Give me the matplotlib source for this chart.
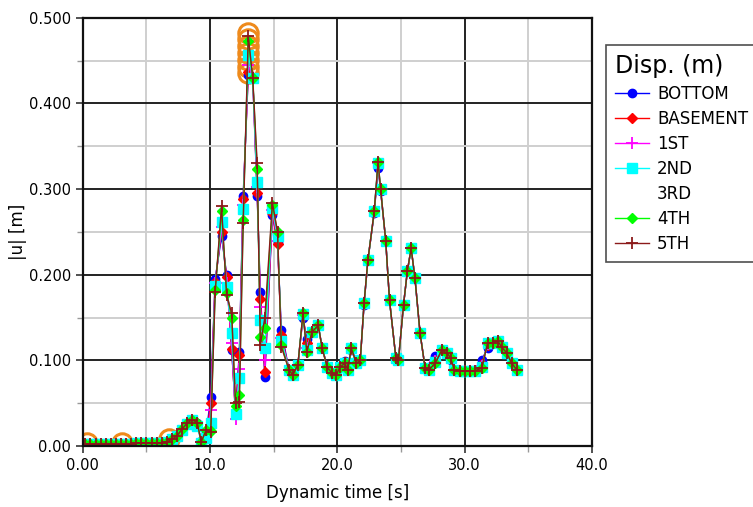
import numpy as np
import matplotlib
matplotlib.use('Agg')
import matplotlib.pyplot as plt
from matplotlib.ticker import MultipleLocator

# time stamps [s]
t = [0.2, 0.6, 1.0, 1.4, 1.8, 2.2, 2.6, 3.0, 3.4, 3.8,
     4.2, 4.6, 5.0, 5.4, 5.8, 6.2, 6.6, 7.0, 7.4, 7.8,
     8.2, 8.6, 9.0, 9.3, 9.7, 10.05, 10.4, 10.9, 11.3, 11.7,
     12.0, 12.3, 12.6, 13.0, 13.35, 13.7, 13.95, 14.3, 14.9, 15.3,
     15.6, 16.2, 16.5, 16.9, 17.3, 17.6, 18.0, 18.5, 18.8, 19.2,
     19.6, 19.9, 20.2, 20.6, 20.8, 21.1, 21.5, 21.8, 22.1, 22.4,
     22.9, 23.2, 23.4, 23.8, 24.1, 24.6, 24.8, 25.2, 25.5, 25.8,
     26.1, 26.5, 26.9, 27.2, 27.7, 28.2, 28.6, 28.9, 29.2, 29.6,
     30.0, 30.4, 30.8, 31.35, 31.8, 32.2, 32.6, 32.9, 33.3, 33.7,
     34.1]

u_bottom = [0.002, 0.002, 0.003, 0.003, 0.003, 0.003, 0.003, 0.003, 0.003, 0.003,
            0.004, 0.004, 0.004, 0.004, 0.004, 0.004, 0.005, 0.008, 0.012, 0.020,
            0.027, 0.031, 0.027, 0.006, 0.016, 0.057, 0.195, 0.245, 0.200, 0.112,
            0.040, 0.110, 0.292, 0.433, 0.430, 0.292, 0.180, 0.081, 0.270, 0.238,
            0.135, 0.089, 0.083, 0.095, 0.150, 0.125, 0.133, 0.141, 0.115, 0.094,
            0.085, 0.083, 0.092, 0.099, 0.091, 0.112, 0.099, 0.100, 0.165, 0.217,
            0.272, 0.325, 0.298, 0.240, 0.170, 0.103, 0.100, 0.165, 0.204, 0.231,
            0.196, 0.132, 0.091, 0.092, 0.105, 0.112, 0.108, 0.100, 0.089, 0.088,
            0.088, 0.088, 0.089, 0.100, 0.115, 0.120, 0.121, 0.115, 0.108, 0.097,
            0.089]

u_basement = [0.002, 0.002, 0.003, 0.003, 0.003, 0.003, 0.003, 0.003, 0.003, 0.003,
              0.004, 0.004, 0.004, 0.004, 0.004, 0.004, 0.005, 0.008, 0.012, 0.020,
              0.027, 0.031, 0.027, 0.006, 0.013, 0.050, 0.192, 0.250, 0.197, 0.113,
              0.038, 0.106, 0.289, 0.437, 0.430, 0.296, 0.172, 0.087, 0.272, 0.236,
              0.130, 0.089, 0.083, 0.095, 0.152, 0.120, 0.133, 0.141, 0.115, 0.093,
              0.085, 0.083, 0.092, 0.098, 0.090, 0.113, 0.098, 0.100, 0.166, 0.217,
              0.273, 0.328, 0.299, 0.240, 0.170, 0.103, 0.100, 0.165, 0.204, 0.231,
              0.196, 0.132, 0.091, 0.091, 0.101, 0.112, 0.109, 0.102, 0.089, 0.088,
              0.088, 0.088, 0.088, 0.096, 0.118, 0.120, 0.122, 0.116, 0.109, 0.097,
              0.089]

u_1st = [0.002, 0.002, 0.003, 0.003, 0.003, 0.003, 0.003, 0.003, 0.003, 0.003,
         0.004, 0.004, 0.004, 0.004, 0.004, 0.004, 0.005, 0.008, 0.012, 0.020,
         0.027, 0.031, 0.026, 0.005, 0.008, 0.042, 0.190, 0.256, 0.190, 0.120,
         0.032, 0.090, 0.282, 0.445, 0.430, 0.302, 0.162, 0.100, 0.276, 0.240,
         0.126, 0.089, 0.083, 0.095, 0.153, 0.115, 0.133, 0.141, 0.115, 0.092,
         0.085, 0.083, 0.092, 0.097, 0.089, 0.114, 0.097, 0.100, 0.167, 0.217,
         0.274, 0.330, 0.300, 0.240, 0.170, 0.103, 0.100, 0.165, 0.204, 0.231,
         0.196, 0.132, 0.091, 0.090, 0.099, 0.112, 0.109, 0.103, 0.089, 0.088,
         0.088, 0.088, 0.088, 0.093, 0.119, 0.120, 0.123, 0.116, 0.109, 0.097,
         0.089]

u_2nd = [0.002, 0.002, 0.003, 0.003, 0.003, 0.003, 0.003, 0.003, 0.003, 0.003,
         0.004, 0.004, 0.004, 0.004, 0.004, 0.004, 0.005, 0.008, 0.012, 0.019,
         0.026, 0.030, 0.024, 0.004, 0.010, 0.027, 0.187, 0.262, 0.186, 0.132,
         0.038, 0.080, 0.277, 0.456, 0.430, 0.308, 0.147, 0.114, 0.278, 0.245,
         0.123, 0.089, 0.083, 0.095, 0.154, 0.112, 0.133, 0.141, 0.115, 0.092,
         0.085, 0.083, 0.092, 0.097, 0.089, 0.114, 0.097, 0.100, 0.167, 0.217,
         0.274, 0.331, 0.300, 0.240, 0.170, 0.103, 0.100, 0.165, 0.204, 0.231,
         0.196, 0.132, 0.091, 0.089, 0.098, 0.112, 0.109, 0.103, 0.089, 0.088,
         0.088, 0.088, 0.088, 0.092, 0.120, 0.120, 0.123, 0.116, 0.109, 0.097,
         0.089]

u_3rd = [0.002, 0.002, 0.003, 0.003, 0.003, 0.003, 0.003, 0.003, 0.003, 0.003,
         0.004, 0.004, 0.004, 0.004, 0.004, 0.004, 0.005, 0.008, 0.012, 0.020,
         0.027, 0.031, 0.027, 0.005, 0.017, 0.022, 0.184, 0.267, 0.182, 0.142,
         0.042, 0.070, 0.270, 0.465, 0.430, 0.315, 0.135, 0.125, 0.280, 0.248,
         0.120, 0.089, 0.083, 0.095, 0.155, 0.111, 0.133, 0.141, 0.115, 0.092,
         0.085, 0.083, 0.092, 0.097, 0.089, 0.114, 0.097, 0.100, 0.167, 0.217,
         0.274, 0.331, 0.300, 0.240, 0.170, 0.103, 0.100, 0.165, 0.204, 0.231,
         0.196, 0.132, 0.091, 0.089, 0.097, 0.112, 0.109, 0.103, 0.089, 0.088,
         0.088, 0.088, 0.088, 0.091, 0.120, 0.120, 0.123, 0.116, 0.109, 0.097,
         0.089]

u_4th = [0.002, 0.002, 0.003, 0.003, 0.003, 0.003, 0.003, 0.003, 0.003, 0.003,
         0.004, 0.004, 0.004, 0.004, 0.004, 0.004, 0.005, 0.008, 0.012, 0.020,
         0.027, 0.031, 0.027, 0.005, 0.019, 0.018, 0.182, 0.274, 0.179, 0.150,
         0.047, 0.060, 0.264, 0.473, 0.430, 0.323, 0.127, 0.138, 0.281, 0.250,
         0.118, 0.089, 0.083, 0.095, 0.155, 0.110, 0.133, 0.141, 0.115, 0.092,
         0.085, 0.083, 0.092, 0.097, 0.089, 0.114, 0.097, 0.100, 0.167, 0.217,
         0.274, 0.332, 0.300, 0.240, 0.170, 0.103, 0.100, 0.165, 0.204, 0.231,
         0.196, 0.132, 0.091, 0.089, 0.097, 0.112, 0.109, 0.103, 0.089, 0.088,
         0.088, 0.088, 0.088, 0.091, 0.120, 0.120, 0.123, 0.116, 0.109, 0.097,
         0.089]

u_5th = [0.002, 0.002, 0.003, 0.003, 0.003, 0.003, 0.003, 0.003, 0.003, 0.003,
         0.004, 0.004, 0.004, 0.004, 0.004, 0.004, 0.005, 0.008, 0.012, 0.020,
         0.027, 0.031, 0.027, 0.005, 0.019, 0.016, 0.180, 0.280, 0.176, 0.155,
         0.050, 0.052, 0.260, 0.479, 0.430, 0.330, 0.118, 0.150, 0.284, 0.250,
         0.116, 0.089, 0.083, 0.095, 0.155, 0.110, 0.133, 0.141, 0.115, 0.092,
         0.085, 0.083, 0.092, 0.097, 0.089, 0.114, 0.097, 0.100, 0.167, 0.217,
         0.274, 0.332, 0.300, 0.240, 0.170, 0.103, 0.100, 0.165, 0.204, 0.231,
         0.196, 0.132, 0.091, 0.089, 0.097, 0.112, 0.109, 0.103, 0.089, 0.088,
         0.088, 0.088, 0.088, 0.091, 0.120, 0.120, 0.123, 0.116, 0.109, 0.097,
         0.089]

# highlighted points (orange rings)
ring_t = [0.3, 3.1, 6.8, 12.95, 12.95, 12.95, 12.95, 12.95, 12.95, 12.95]
ring_u = [0.004, 0.004, 0.008, 0.435, 0.443, 0.451, 0.459, 0.467, 0.475, 0.482]

labels = ['BOTTOM', 'BASEMENT', '1ST', '2ND', '3RD', '4TH', '5TH']
series = [u_bottom, u_basement, u_1st, u_2nd, u_3rd, u_4th, u_5th]
colors = ['#0000ff', '#ff0000', '#ff00ff', '#00ffff', 'none', '#00ff00', '#8b1a1a']
markers = ['o', 'D', '+', 's', 'None', 'D', '+']
msizes = [6, 5, 8, 6.5, 0, 5, 9]

plt.rcParams['font.family'] = ['DejaVu Sans']

fig = plt.figure(figsize=(7.53, 5.07), dpi=100)
ax = fig.add_axes([0.110, 0.120, 0.676, 0.845])

for lab, u, c, m, ms in zip(labels, series, colors, markers, msizes):
    if c == 'none':
        ax.plot(t, u, ls='none', marker='None', label=lab)
        continue
    ax.plot(t, u, color=c, lw=1.0, marker=m, ms=ms, mec=c, mfc=c,
            mew=1.3 if m == '+' else 1.0, label=lab)

ax.plot(ring_t, ring_u, ls='none', marker='o', ms=14, mfc='none',
        mec='#ee8a1c', mew=2.2, zorder=1.5)

ax.set_xlim(0, 40)
ax.set_ylim(0, 0.5)
ax.xaxis.set_minor_locator(MultipleLocator(5))
ax.yaxis.set_minor_locator(MultipleLocator(0.05))
ax.set_xticks([0, 10, 20, 30, 40])
ax.set_xticklabels(['0.00', '10.0', '20.0', '30.0', '40.0'])
ax.set_yticks([0, 0.1, 0.2, 0.3, 0.4, 0.5])
ax.set_yticklabels(['0.00', '0.100', '0.200', '0.300', '0.400', '0.500'])
ax.tick_params(which='major', direction='out', length=5, width=1.2,
               labelsize=10.5, color='#333333')
ax.tick_params(which='minor', direction='out', length=4, width=1.0,
               color='#999999')

ax.grid(which='major', color='#222222', lw=1.4)
ax.grid(which='minor', color='#cfcfcf', lw=1.4)
ax.set_axisbelow(True)
for sp in ax.spines.values():
    sp.set_color('#111111')
    sp.set_linewidth(1.6)

ax.set_xlabel('Dynamic time [s]', fontsize=12, labelpad=8)
ax.set_ylabel('|u| [m]', fontsize=12, labelpad=1)

leg = ax.legend(loc='upper left', bbox_to_anchor=(0.805, 0.912),
                bbox_transform=fig.transFigure, title='Disp. (m)',
                title_fontsize=17, fontsize=12, frameon=True,
                fancybox=False, edgecolor='#222222', handlelength=2.0,
                labelspacing=0.42, borderpad=0.55, handletextpad=0.5,
                alignment='left', borderaxespad=0)
leg.get_frame().set_linewidth(1.2)

fig.savefig('out.png', dpi=100)
